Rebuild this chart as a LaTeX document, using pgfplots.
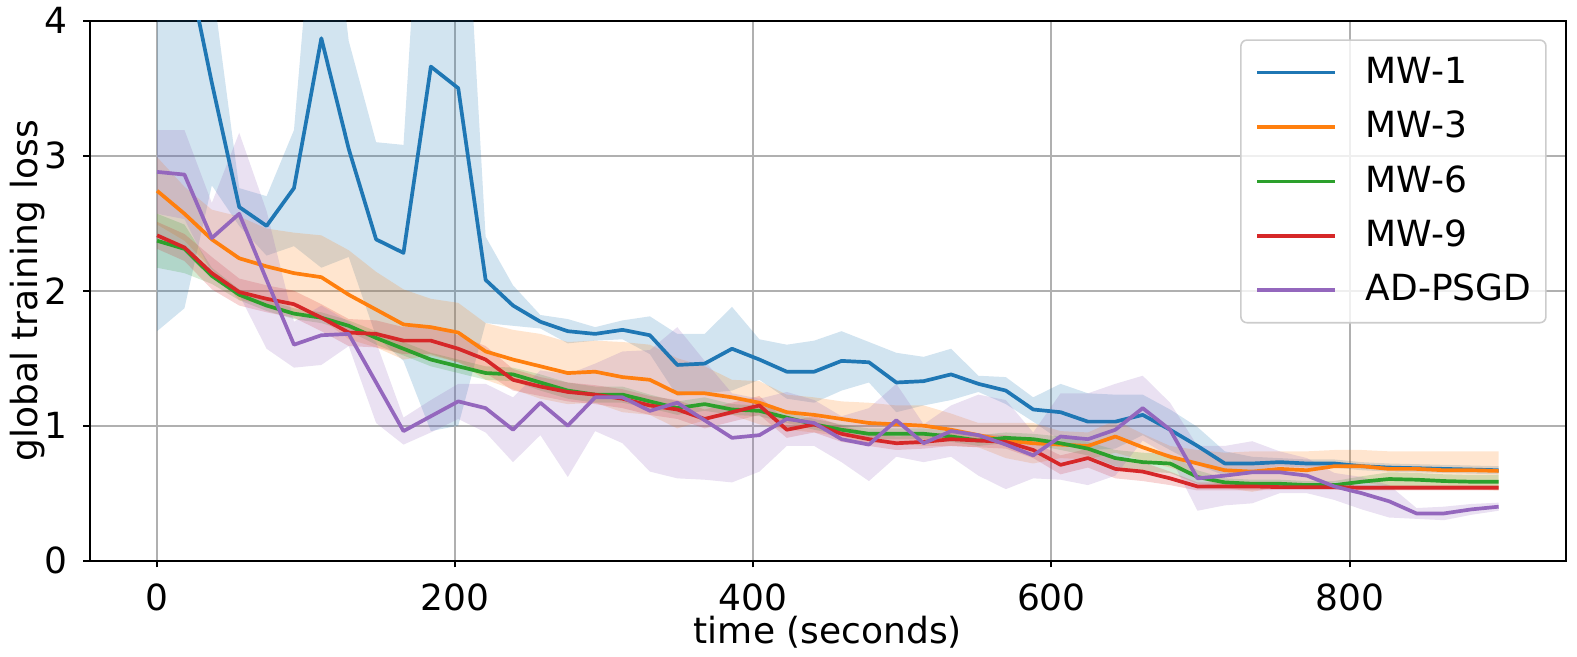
\documentclass[border=0pt]{standalone}
\usepackage{fontspec}
\setmainfont{DejaVu Sans}
\usepackage{pgfplots}
\usepackage{pgfplotstable}
\pgfplotsset{compat=1.18}
\usepgfplotslibrary{fillbetween}
\definecolor{c0}{HTML}{1F77B4}
\definecolor{c1}{HTML}{FF7F0E}
\definecolor{c2}{HTML}{2CA02C}
\definecolor{c3}{HTML}{D62728}
\definecolor{c4}{HTML}{9467BD}
\definecolor{gridgray}{HTML}{B0B0B0}
\definecolor{leggray}{HTML}{CCCCCC}
\pgfplotstableread{
x m1 s1 m3 s3 m6 s6 m9 s9 ma sa
0 5.2 3.5 2.74 0.25 2.37 0.20 2.41 0.10 2.88 0.31
18.37 4.52 2.65 2.57 0.20 2.31 0.18 2.32 0.10 2.86 0.33
36.73 3.54 0.76 2.38 0.22 2.11 0.06 2.13 0.12 2.39 0.26
55.10 2.62 0.14 2.24 0.31 1.97 0.04 1.99 0.10 2.57 0.60
73.47 2.48 0.22 2.18 0.28 1.89 0.04 1.94 0.10 2.08 0.51
91.84 2.76 0.43 2.13 0.30 1.83 0.04 1.90 0.10 1.60 0.17
110.20 3.87 1.70 2.10 0.31 1.80 0.04 1.80 0.10 1.67 0.22
128.57 3.05 0.80 1.97 0.33 1.74 0.04 1.69 0.10 1.68 0.09
146.94 2.38 0.72 1.86 0.28 1.65 0.05 1.68 0.10 1.32 0.30
165.31 2.28 0.80 1.75 0.26 1.57 0.05 1.63 0.10 0.96 0.10
183.67 3.66 2.70 1.73 0.21 1.49 0.05 1.63 0.10 1.07 0.12
202.04 3.50 2.50 1.69 0.22 1.44 0.05 1.57 0.10 1.18 0.13
220.41 2.08 0.32 1.55 0.21 1.39 0.05 1.49 0.10 1.13 0.18
238.78 1.89 0.15 1.49 0.22 1.38 0.05 1.34 0.08 0.97 0.24
257.14 1.77 0.05 1.44 0.24 1.32 0.06 1.29 0.07 1.17 0.24
275.51 1.70 0.09 1.39 0.23 1.26 0.06 1.25 0.07 1.00 0.38
293.88 1.68 0.05 1.40 0.23 1.23 0.06 1.23 0.07 1.21 0.25
312.24 1.71 0.07 1.36 0.26 1.23 0.06 1.20 0.07 1.21 0.34
330.61 1.67 0.14 1.34 0.26 1.18 0.05 1.15 0.07 1.11 0.45
348.98 1.45 0.23 1.24 0.26 1.13 0.05 1.12 0.07 1.17 0.56
367.35 1.46 0.22 1.24 0.20 1.16 0.05 1.05 0.07 1.04 0.44
385.71 1.57 0.31 1.21 0.13 1.12 0.04 1.10 0.07 0.91 0.33
404.08 1.49 0.15 1.17 0.16 1.11 0.04 1.15 0.07 0.93 0.27
422.45 1.40 0.20 1.10 0.13 1.06 0.04 0.97 0.06 1.05 0.20
440.82 1.40 0.23 1.08 0.13 1.01 0.04 1.01 0.06 1.02 0.17
459.18 1.48 0.22 1.05 0.13 0.97 0.04 0.94 0.06 0.90 0.17
477.55 1.47 0.15 1.02 0.15 0.94 0.04 0.90 0.05 0.86 0.27
495.92 1.32 0.22 1.01 0.14 0.94 0.04 0.87 0.05 1.04 0.27
514.29 1.33 0.18 1.00 0.15 0.94 0.04 0.88 0.05 0.87 0.14
532.65 1.38 0.19 0.97 0.12 0.92 0.04 0.90 0.05 0.96 0.19
551.02 1.31 0.06 0.93 0.09 0.89 0.04 0.89 0.05 0.93 0.30
569.39 1.26 0.10 0.89 0.13 0.91 0.04 0.88 0.05 0.86 0.33
587.76 1.12 0.09 0.87 0.15 0.90 0.04 0.82 0.06 0.78 0.17
606.12 1.10 0.21 0.86 0.10 0.87 0.05 0.71 0.07 0.92 0.32
624.49 1.03 0.21 0.85 0.10 0.83 0.05 0.76 0.07 0.90 0.34
642.86 1.03 0.20 0.92 0.12 0.76 0.06 0.68 0.07 0.97 0.34
661.22 1.08 0.15 0.84 0.10 0.73 0.07 0.66 0.07 1.13 0.24
679.59 0.97 0.15 0.77 0.08 0.72 0.07 0.61 0.05 0.97 0.20
697.96 0.85 0.14 0.72 0.10 0.62 0.05 0.55 0.03 0.61 0.24
716.33 0.72 0.09 0.67 0.13 0.58 0.03 0.55 0.03 0.63 0.22
734.69 0.72 0.05 0.66 0.15 0.57 0.03 0.55 0.03 0.655 0.23
753.06 0.73 0.03 0.68 0.13 0.57 0.03 0.545 0.02 0.655 0.155
771.43 0.72 0.03 0.67 0.14 0.56 0.03 0.545 0.02 0.63 0.13
789.80 0.72 0.03 0.70 0.12 0.56 0.03 0.545 0.02 0.55 0.10
808.16 0.70 0.03 0.70 0.12 0.585 0.04 0.54 0.02 0.50 0.12
826.53 0.69 0.03 0.68 0.13 0.605 0.05 0.54 0.02 0.44 0.12
844.90 0.685 0.03 0.68 0.13 0.60 0.05 0.54 0.02 0.35 0.04
863.27 0.68 0.03 0.67 0.14 0.59 0.05 0.54 0.02 0.35 0.05
881.63 0.675 0.03 0.67 0.14 0.585 0.05 0.54 0.02 0.38 0.04
900 0.67 0.03 0.665 0.145 0.585 0.05 0.54 0.02 0.40 0.03
}\lossdata
\newcommand{\band}[2]{%
  \addplot[draw=none, forget plot, name path=u#1] table[x=x, y expr=\thisrow{m#1}+\thisrow{s#1}] {\lossdata};
  \addplot[draw=none, forget plot, name path=l#1] table[x=x, y expr=\thisrow{m#1}-\thisrow{s#1}] {\lossdata};
  \addplot[fill=#2, fill opacity=0.2, draw=none, forget plot] fill between[of=u#1 and l#1];
}
\begin{document}
\begin{tikzpicture}
\begin{axis}[
  at={(0,0)}, anchor=south west,
  scale only axis, width=737.85pt, height=270pt,
  xmin=-45, xmax=945, ymin=0, ymax=4,
  xtick={0,200,400,600,800}, ytick={0,1,2,3,4},
  grid=major, major grid style={gridgray, line width=1pt},
  axis line style={black, line width=1pt},
  tick align=outside, tick pos=left, major tick length=3.3pt,
  tick style={black, line width=1pt},
  /pgf/number format/assume math mode=true,
  tick label style={font=\fontsize{18}{21.6}\selectfont, inner sep=0pt},
  xticklabel style={anchor=north, yshift=-8pt},
  yticklabel style={anchor=east, xshift=-7.75pt},
  xlabel={time (seconds)}, ylabel={global training loss},
  every axis x label/.style={at={([yshift=-35.6pt]axis description cs:0.5,0)}, anchor=center,
    font=\fontsize{18}{21.6}\selectfont, inner sep=0pt},
  every axis y label/.style={at={([xshift=-31.25pt]axis description cs:0,0.5)}, rotate=90, anchor=center,
    font=\fontsize{18}{21.6}\selectfont, inner sep=0pt},
  legend style={at={(axis description cs:1,1)}, anchor=north east, xshift=-9.5pt, yshift=-9.3pt,
    draw=leggray, line width=0.8pt, rounded corners=3pt, fill=white, fill opacity=0.8, text opacity=1,
    font=\fontsize{18}{21.6}\selectfont, inner xsep=7.3pt, inner ysep=8.45pt,
    row sep=11.6pt, column sep=14.6pt,
    nodes={inner sep=0pt, text height=13.1pt, text depth=2.5pt, anchor=west}},
  legend cell align=left,
  legend image code/.code={\draw[#1] (0pt,0pt) -- (38.7pt,0pt);},
  every axis plot/.append style={line width=1.85pt, line join=round},
]
\band{1}{c0}
\band{3}{c1}
\band{6}{c2}
\band{9}{c3}
\band{a}{c4}
\addplot[c0] table[x=x, y=m1] {\lossdata}; \addlegendentry{MW-1}
\addplot[c1] table[x=x, y=m3] {\lossdata}; \addlegendentry{MW-3}
\addplot[c2] table[x=x, y=m6] {\lossdata}; \addlegendentry{MW-6}
\addplot[c3] table[x=x, y=m9] {\lossdata}; \addlegendentry{MW-9}
\addplot[c4] table[x=x, y=ma] {\lossdata}; \addlegendentry{AD-PSGD}
\end{axis}
\pgfresetboundingbox
\path[use as bounding box] (-45pt,-48pt) rectangle (743.5pt,280.35pt);
\end{tikzpicture}
\end{document}
